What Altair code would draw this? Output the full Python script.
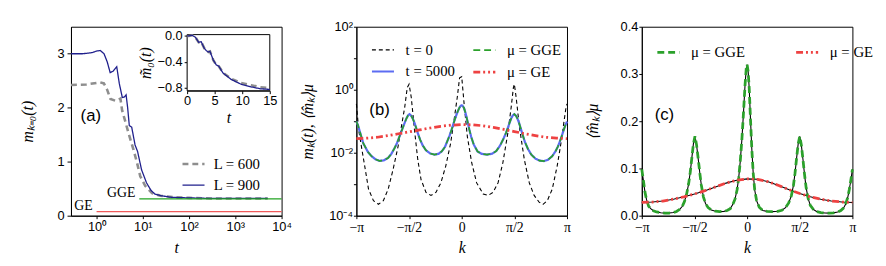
import altair as alt
import pandas as pd

# ---------------- panel (a): m_{k=0}(t) ----------------
t_L900 = [0.28, 0.5, 0.8, 1.0, 1.2, 1.45, 1.7, 1.97, 2.3, 2.73, 3.1, 3.6, 4.0, 4.35,
          4.7, 5.1, 5.75, 6.8, 7.7, 9.4, 12, 15, 18.3, 25, 42, 100, 300, 1000, 3000, 5000]
m_L900 = [3.0, 3.0, 3.02, 3.05, 3.06, 3.0, 2.85, 2.65, 2.68, 2.76, 2.45, 2.19, 2.2, 2.24,
          2.0, 1.67, 1.64, 1.31, 1.19, 0.85, 0.61, 0.47, 0.40, 0.37, 0.34, 0.33, 0.32, 0.32, 0.32, 0.32]
t_L600 = [0.28, 0.6, 1.0, 1.2, 1.44, 1.7, 2.0, 2.56, 3.0, 3.28, 3.57, 4.2, 4.94, 6.3, 7.5,
          8.8, 11.3, 15.8, 23.7, 50, 100, 300, 1000, 3000, 5000]
m_L600 = [2.42, 2.43, 2.46, 2.47, 2.45, 2.33, 2.16, 2.13, 2.15, 2.17, 1.95, 1.74, 1.52, 1.22, 0.98,
          0.73, 0.55, 0.42, 0.37, 0.34, 0.33, 0.32, 0.32, 0.32, 0.32]
gge_t = [8.4, 10000]
gge_level = 0.31
ge_t = [1.0, 10000]
ge_level = 0.075
t_domain = [0.28, 10000]
m_domain = [0, 3.5]
a_tag = {"t": [0.75], "m": [1.85], "txt": ["(a)"]}

# inset of panel (a)
t_in = [0, 0.3, 0.9, 1.5, 2.1, 2.55, 3.1, 3.5, 3.86, 4.15, 4.75, 5.3, 5.75, 6.5, 8, 9.8, 11.6, 13.3, 15]
m_in900 = [0.0, 0.0, 0.01, -0.02, -0.10, -0.09, -0.19, -0.23, -0.25, -0.24, -0.375, -0.45, -0.47,
           -0.575, -0.675, -0.75, -0.79, -0.82, -0.83]
m_in600 = [0.0, 0.0, 0.01, -0.02, -0.10, -0.09, -0.19, -0.23, -0.25, -0.24, -0.375, -0.45, -0.47,
           -0.57, -0.665, -0.73, -0.765, -0.795, -0.81]
in_t_domain = [0, 15]
in_m_domain = [-0.85, 0.02]

# ---------------- panels (b), (c): k in units of pi ----------------
k_t0 = [-1.0, -0.978, -0.947, -0.916, -0.885, -0.838, -0.791, -0.744, -0.698, -0.651, -0.604, -0.573,
        -0.541, -0.517, -0.5, -0.479, -0.448, -0.417, -0.386, -0.339, -0.292, -0.245, -0.198, -0.152,
        -0.105, -0.073, -0.042, -0.02, 0.0, 0.023, 0.054, 0.095, 0.142, 0.204, 0.251, 0.298, 0.345,
        0.391, 0.438, 0.47, 0.491, 0.5, 0.517, 0.548, 0.595, 0.642, 0.688, 0.735, 0.772, 0.813, 0.86,
        0.906, 0.938, 0.969, 0.991, 1.0]
m_t0 = [0.355, 0.052, 0.0123, 0.003, 0.0007, 0.0003, 0.00023, 0.0003, 0.0007, 0.003, 0.016, 0.066,
        0.28, 1.17, 1.5, 0.575, 0.052, 0.006, 0.0014, 0.00055, 0.00044, 0.00055, 0.0011, 0.0037,
        0.020, 0.107, 0.575, 2.4, 2.6, 0.355, 0.032, 0.0048, 0.0011, 0.00049, 0.00044, 0.00055, 0.0011,
        0.0048, 0.042, 0.28, 1.17, 1.5, 0.575, 0.066, 0.006, 0.0011, 0.00044, 0.00027, 0.00023, 0.0003,
        0.0007, 0.0037, 0.016, 0.085, 0.28, 0.355]
k_gge = [-1.000, -0.985, -0.970, -0.955, -0.935, -0.915, -0.890, -0.860, -0.820, -0.780,
         -0.740, -0.700, -0.670, -0.640, -0.615, -0.595, -0.575, -0.555, -0.540, -0.525,
         -0.510, -0.495, -0.480, -0.465, -0.450, -0.435, -0.415, -0.395, -0.370, -0.340,
         -0.300, -0.260, -0.220, -0.190, -0.160, -0.135, -0.115, -0.095, -0.080, -0.065,
         -0.050, -0.035, -0.020, -0.008, 0.000, 0.010, 0.020, 0.032, 0.045, 0.058,
         0.072, 0.090, 0.115, 0.150, 0.190, 0.240, 0.290, 0.330, 0.365, 0.395,
         0.420, 0.440, 0.455, 0.470, 0.485, 0.500, 0.515, 0.530, 0.545, 0.560,
         0.580, 0.600, 0.630, 0.660, 0.700, 0.740, 0.780, 0.820, 0.860, 0.890,
         0.915, 0.935, 0.955, 0.970, 0.985, 1.000]
m_gge = [0.098, 0.075, 0.050, 0.034, 0.020, 0.015, 0.0105, 0.0080, 0.0062, 0.0055,
         0.0057, 0.0068, 0.0090, 0.0135, 0.020, 0.030, 0.045, 0.068, 0.092, 0.122,
         0.152, 0.168, 0.150, 0.122, 0.092, 0.065, 0.040, 0.026, 0.017, 0.012,
         0.0095, 0.0087, 0.0092, 0.011, 0.015, 0.024, 0.035, 0.055, 0.080, 0.115,
         0.160, 0.215, 0.275, 0.312, 0.320, 0.305, 0.270, 0.205, 0.140, 0.090,
         0.055, 0.032, 0.018, 0.011, 0.0092, 0.0087, 0.0093, 0.0115, 0.017, 0.027,
         0.042, 0.064, 0.090, 0.122, 0.152, 0.168, 0.150, 0.120, 0.088, 0.060,
         0.036, 0.022, 0.013, 0.0088, 0.0065, 0.0056, 0.0054, 0.0060, 0.0078, 0.011,
         0.016, 0.024, 0.038, 0.055, 0.075, 0.098]
k_t5000 = k_gge
m_t5000 = m_gge  # t=5000 curve lies on top of the GGE curve
k_ge = [-1, -0.9, -0.8, -0.7, -0.6, -0.5, -0.4, -0.3, -0.2, -0.1, 0, 0.1, 0.2, 0.3, 0.4, 0.5,
        0.6, 0.7, 0.8, 0.9, 1]
m_ge = [0.028, 0.029, 0.031, 0.035, 0.040, 0.046, 0.053, 0.061, 0.069, 0.075, 0.078, 0.077,
        0.072, 0.064, 0.055, 0.047, 0.040, 0.035, 0.031, 0.029, 0.028]
b_tag = {"k": [-0.78], "m": [0.22], "txt": ["(b)"]}
c_tag = {"k": [-0.785], "m": [0.2125], "txt": ["(c)"]}

W, H = 214, 192
SERIF = "Liberation Serif"
SANS = "Liberation Sans"

# ======================= panel (a) =======================
dfa = pd.concat([
    pd.DataFrame({"t": t_L600, "m": m_L600, "sa": "L = 600"}),
    pd.DataFrame({"t": t_L900, "m": m_L900, "sa": "L = 900"}),
])
a_dom = ["L = 600", "L = 900"]
leg_a = alt.Legend(title=None, orient="none", legendX=112, legendY=127, columns=1,
                   symbolType="stroke", symbolSize=500, labelFont=SERIF, labelFontSize=15,
                   labelOffset=8, rowPadding=1, padding=0)
xs_a = alt.Scale(type="log", domain=t_domain, nice=False)
ys_a = alt.Scale(domain=m_domain, nice=False)
ax_a_x = alt.Axis(values=[1, 10, 100, 1000, 10000], title="t", labelFlush=False,
                  labelExpr="'10' + ['⁰','¹','²','³','⁴'][round(log(datum.value)/LN10)]",
                  labelPadding=2, titlePadding=6)
ax_a_y = alt.Axis(values=[0, 1, 2, 3], format="d", title="mₖ₌₀(t)", tickSize=4,
                  labelPadding=3, titlePadding=22)

lines_a = alt.Chart(dfa).mark_line().encode(
    x=alt.X("t:Q", scale=xs_a, axis=ax_a_x),
    y=alt.Y("m:Q", scale=ys_a, axis=ax_a_y),
    color=alt.Color("sa:N", scale=alt.Scale(domain=a_dom, range=["#8e8e8e", "#1f1f8c"]), legend=leg_a),
    strokeDash=alt.StrokeDash("sa:N", scale=alt.Scale(domain=a_dom, range=[[6, 4], [1, 0]]), legend=leg_a),
    strokeWidth=alt.StrokeWidth("sa:N", scale=alt.Scale(domain=a_dom, range=[2.6, 1.3]), legend=leg_a),
)
gge_a = alt.Chart(pd.DataFrame({"t": gge_t, "m": [gge_level] * 2})).mark_line(
    color="#22a322", strokeWidth=1.2).encode(x="t:Q", y="m:Q")
ge_a = alt.Chart(pd.DataFrame({"t": ge_t, "m": [ge_level] * 2})).mark_line(
    color="#f05a5a", strokeWidth=1.2).encode(x="t:Q", y="m:Q")
lab_df = pd.DataFrame({"t": [gge_t[0], ge_t[0]], "m": [gge_level, ge_level], "txt": ["GGE", "GE"]})
lab_a = alt.Chart(lab_df).mark_text(align="right", baseline="bottom", dx=-4, dy=1,
                                    font=SERIF, fontSize=14, color="black").encode(
    x="t:Q", y="m:Q", text="txt:N")
tag_a = alt.Chart(pd.DataFrame(a_tag)).mark_text(font=SANS, fontSize=17, color="black").encode(
    x="t:Q", y="m:Q", text="txt:N")
main_a = alt.layer(lines_a, gge_a, ge_a, lab_a, tag_a)

# inset
xs_in = alt.Scale(domain=in_t_domain, range=[118, 202], nice=False)
ys_in = alt.Scale(domain=in_m_domain, range=[65, 8], nice=False)
ax_in_x = alt.Axis(orient="bottom", offset=-127, values=[0, 5, 10, 15], title="t",
                   labelFlush=False, tickSize=3, labelPadding=1, titlePadding=2)
ax_in_y = alt.Axis(orient="left", offset=-118, values=[0.0, -0.4, -0.8], format=".1f",
                   title="m̃₀(t)", tickSize=3, labelPadding=2, titlePadding=4)
dfi = pd.concat([
    pd.DataFrame({"ti": t_in, "mi": m_in600, "sa": "L = 600"}),
    pd.DataFrame({"ti": t_in, "mi": m_in900, "sa": "L = 900"}),
])
frame_in = alt.Chart(pd.DataFrame({"x0": [in_t_domain[0]], "x1": [in_t_domain[1]],
                                   "y0": [in_m_domain[0]], "y1": [in_m_domain[1]]})).mark_rect(
    fill="white", stroke="black", strokeWidth=1).encode(
    x=alt.X("x0:Q", scale=xs_in, axis=ax_in_x), x2="x1:Q",
    y=alt.Y("y0:Q", scale=ys_in, axis=ax_in_y), y2="y1:Q")
lines_in = alt.Chart(dfi).mark_line().encode(
    x=alt.X("ti:Q", scale=xs_in, axis=ax_in_x),
    y=alt.Y("mi:Q", scale=ys_in, axis=ax_in_y),
    color=alt.Color("sa:N", scale=alt.Scale(domain=a_dom, range=["#8e8e8e", "#1f1f8c"]), legend=leg_a),
    strokeDash=alt.StrokeDash("sa:N", scale=alt.Scale(domain=a_dom, range=[[6, 4], [1, 0]]), legend=leg_a),
    strokeWidth=alt.StrokeWidth("sa:N", scale=alt.Scale(domain=a_dom, range=[2.6, 1.3]), legend=leg_a),
)
inset_a = alt.layer(frame_in, lines_in)

panel_a = alt.layer(main_a, inset_a).resolve_scale(x="independent", y="independent").properties(
    width=W, height=H)

# ======================= panel (b) =======================
b_dom = ["t = 0", "μ = GGE", "t = 5000", "μ = GE"]
dfb = pd.concat([
    pd.DataFrame({"k": k_t0, "m": m_t0, "sb": "t = 0"}),
    pd.DataFrame({"k": k_t5000, "m": m_t5000, "sb": "t = 5000"}),
    pd.DataFrame({"k": k_gge, "m": m_gge, "sb": "μ = GGE"}),
    pd.DataFrame({"k": k_ge, "m": m_ge, "sb": "μ = GE"}),
])
leg_b = alt.Legend(title=None, orient="none", legendX=14, legendY=11, columns=2, direction="horizontal",
                   symbolType="stroke", symbolSize=500, labelFont=SERIF, labelFontSize=15,
                   labelOffset=10, rowPadding=1, columnPadding=12, padding=0)
k_axis = alt.Axis(values=[-1, -0.5, 0, 0.5, 1], title="k", labelFlush=False, labelFont=SERIF,
                  labelFontSize=14, labelExpr="['−π','−π/2','0','π/2','π'][round(datum.value*2)+2]",
                  labelPadding=2, titlePadding=5)
xs_k = alt.Scale(domain=[-1, 1], nice=False)
ax_b_y = alt.Axis(values=[1e-4, 1e-3, 1e-2, 1e-1, 1, 10, 100], title="mₖ(t),  ⟨m̂ₖ⟩μ",
                  labelExpr="['10⁻⁴','','10⁻²','','10⁰','','10²'][round(log(datum.value)/LN10)+4]",
                  labelPadding=1, titlePadding=14)
base_b = alt.Chart(dfb).mark_line().encode(
    x=alt.X("k:Q", scale=xs_k, axis=k_axis),
    y=alt.Y("m:Q", scale=alt.Scale(type="log", domain=[1e-4, 1e2], nice=False), axis=ax_b_y),
    color=alt.Color("sb:N", scale=alt.Scale(domain=b_dom, range=["black", "#2ba12b", "#5c6cf2", "#ee4242"]),
                    legend=leg_b),
    strokeDash=alt.StrokeDash("sb:N", scale=alt.Scale(domain=b_dom, range=[[4, 3], [7, 4], [1, 0], [7, 3, 2, 3, 2, 3]]),
                              legend=leg_b),
    strokeWidth=alt.StrokeWidth("sb:N", scale=alt.Scale(domain=b_dom, range=[1.1, 2.8, 1.3, 2.8]),
                                legend=leg_b),
)
layers_b = [base_b.transform_filter(alt.datum.sb == s) for s in ["t = 0", "t = 5000", "μ = GGE", "μ = GE"]]
tag_b = alt.Chart(pd.DataFrame(b_tag)).mark_text(font=SANS, fontSize=17, color="black").encode(
    x="k:Q", y="m:Q", text="txt:N")
panel_b = alt.layer(*layers_b, tag_b).properties(width=W, height=H)

# ======================= panel (c) =======================
c_dom = ["μ = GGE", "μ = GE"]
dfc = pd.concat([
    pd.DataFrame({"k": k_gge, "m": m_gge, "sc": "μ = GGE"}),
    pd.DataFrame({"k": k_ge, "m": m_ge, "sc": "μ = GE"}),
])
leg_c = alt.Legend(title=None, orient="none", legendX=14, legendY=13, columns=2, direction="horizontal",
                   symbolType="stroke", symbolSize=500, labelFont=SERIF, labelFontSize=15,
                   labelOffset=10, columnPadding=46, padding=0)
ax_c_y = alt.Axis(values=[0, 0.1, 0.2, 0.3, 0.4], format=".1f", title="⟨m̂ₖ⟩μ",
                  labelPadding=1, titlePadding=20)
ys_c = alt.Scale(domain=[0, 0.4], nice=False)
black_c = alt.Chart(dfc).mark_line(color="black", strokeWidth=1.1).encode(
    x=alt.X("k:Q", scale=xs_k, axis=k_axis), y=alt.Y("m:Q", scale=ys_c, axis=ax_c_y), detail="sc:N")
col_c = alt.Chart(dfc).mark_line().encode(
    x=alt.X("k:Q", scale=xs_k, axis=k_axis),
    y=alt.Y("m:Q", scale=ys_c, axis=ax_c_y),
    color=alt.Color("sc:N", scale=alt.Scale(domain=c_dom, range=["#2ba12b", "#ee4242"]), legend=leg_c),
    strokeDash=alt.StrokeDash("sc:N", scale=alt.Scale(domain=c_dom, range=[[7, 4], [7, 3, 2, 3, 2, 3]]),
                              legend=leg_c),
    strokeWidth=alt.StrokeWidth("sc:N", scale=alt.Scale(domain=c_dom, range=[2.8, 2.8]), legend=leg_c),
)
tag_c = alt.Chart(pd.DataFrame(c_tag)).mark_text(font=SANS, fontSize=17, color="black").encode(
    x="k:Q", y="m:Q", text="txt:N")
panel_c = alt.layer(black_c, col_c, tag_c).properties(width=W, height=H)

chart = alt.hconcat(panel_a, panel_b, panel_c, spacing=76, bounds="flush").resolve_scale(
    color="independent", strokeDash="independent", strokeWidth="independent"
).properties(
    padding={"left": 11, "top": 10, "right": 4, "bottom": 4}
).configure_view(
    stroke="black", strokeWidth=1
).configure_axis(
    grid=False, domainColor="black", tickColor="black", labelColor="black", titleColor="black",
    labelFont=SANS, labelFontSize=13, titleFont=SERIF, titleFontSize=16, titleFontStyle="italic",
    titleFontWeight="normal", tickSize=3
).configure_legend(
    labelColor="black", labelFont=SERIF, labelFontSize=15
)

chart.save("out.html", embed_options={"renderer": "svg", "actions": False})
